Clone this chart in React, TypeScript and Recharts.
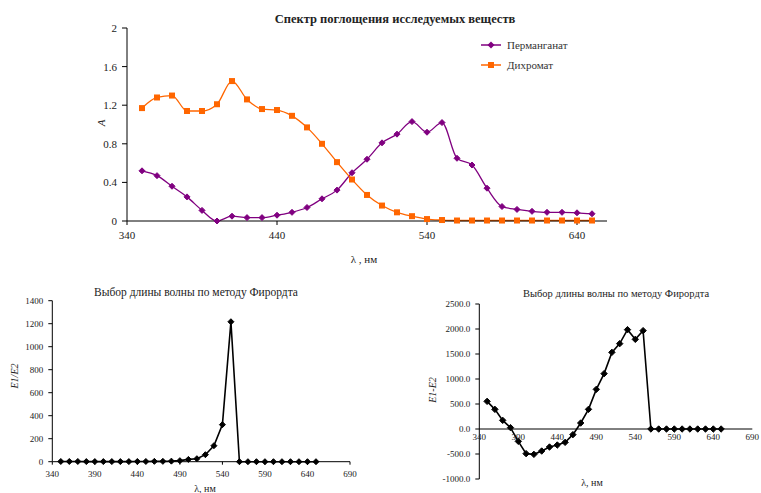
import { LineChart, Line, XAxis, YAxis, ReferenceLine, ReferenceDot } from "recharts";

const FONT = '"Liberation Serif", "DejaVu Serif", serif';

const wavelengths = [350, 360, 370, 380, 390, 400, 410, 420, 430, 440, 450, 460, 470, 480, 490, 500, 510, 520, 530, 540, 550, 560, 570, 580, 590, 600, 610, 620, 630, 640, 650];
const permanganate = [0.52, 0.47, 0.36, 0.25, 0.11, 0.0, 0.05, 0.035, 0.035, 0.06, 0.09, 0.14, 0.23, 0.32, 0.5, 0.64, 0.81, 0.9, 1.03, 0.92, 1.02, 0.65, 0.58, 0.34, 0.15, 0.12, 0.1, 0.09, 0.09, 0.085, 0.075];
const dichromate = [1.17, 1.28, 1.3, 1.14, 1.14, 1.21, 1.45, 1.26, 1.16, 1.15, 1.09, 0.97, 0.8, 0.61, 0.43, 0.27, 0.16, 0.09, 0.05, 0.02, 0.01, 0.005, 0.005, 0.005, 0.005, 0.005, 0.005, 0.005, 0.005, 0.005, 0.005];
const ratioE = [2, 2, 2, 1, 1, 1, 1, 1, 1, 2, 2, 3, 3, 5, 9, 20, 26, 61, 139, 322, 1217, 0, 0, 0, 0, 0, 0, 0, 0, 0, 0];
const diffE = [553, 393, 173, 27, -247, -493, -507, -440, -360, -320, -267, -113, 120, 393, 793, 1107, 1533, 1707, 1987, 1793, 1967, 0, 0, 0, 0, 0, 0, 0, 0, 0, 0];

const spectrumXTicks = [340, 440, 540, 640];
const spectrumYTicks = [0, 0.4, 0.8, 1.2, 1.6, 2];
const smallXTicks = [340, 390, 440, 490, 540, 590, 640, 690];
const ratioYTicks = [0, 200, 400, 600, 800, 1000, 1200, 1400];
const diffYTicks = [-1000, -500, 0, 500, 1000, 1500, 2000, 2500];

const PURPLE = "#800080";
const ORANGE = "#FF6600";

const rows = wavelengths.map((wl, i) => ({
  wl,
  perm: permanganate[i],
  dichr: dichromate[i],
  ratio: ratioE[i],
  diff: diffE[i],
}));

function diamond(color: string, r: number) {
  // eslint-disable-next-line @typescript-eslint/no-explicit-any
  return (p: any) => (
    <path
      key={p.index}
      d={`M${p.cx},${p.cy - r}L${p.cx + r},${p.cy}L${p.cx},${p.cy + r}L${p.cx - r},${p.cy}Z`}
      fill={color}
      stroke={color}
    />
  );
}

function square(color: string, r: number) {
  // eslint-disable-next-line @typescript-eslint/no-explicit-any
  return (p: any) => (
    <rect key={p.index} x={p.cx - r} y={p.cy - r} width={r * 2} height={r * 2} fill={color} />
  );
}

function Txt({ x, y, children, size = 11, bold = false, italic = false, rotate = 0 }: {
  x: number; y: number; children: React.ReactNode; size?: number; bold?: boolean; italic?: boolean; rotate?: number;
}) {
  return (
    <div
      style={{
        position: "absolute",
        left: x,
        top: y,
        transform: `translate(-50%, -50%) rotate(${rotate}deg)`,
        whiteSpace: "nowrap",
        fontFamily: FONT,
        fontSize: size,
        fontWeight: bold ? 700 : 400,
        fontStyle: italic ? "italic" : "normal",
        color: "#222",
        lineHeight: 1,
      }}
    >
      {children}
    </div>
  );
}

const legendItems = [
  { name: "Перманганат", color: PURPLE, kind: "diamond" },
  { name: "Дихромат", color: ORANGE, kind: "square" },
];

function SpectrumLegend() {
  return (
    <div style={{ position: "absolute", left: 481, top: 35, fontFamily: FONT, fontSize: 11, color: "#333" }}>
      {legendItems.map((it) => (
        <div key={it.name} style={{ display: "flex", alignItems: "center", height: 20 }}>
          <svg width={20} height={10}>
            <line x1={0} y1={5} x2={20} y2={5} stroke={it.color} strokeWidth={1.5} />
            {it.kind === "diamond" ? (
              <path d="M10,1.5L13.5,5L10,8.5L6.5,5Z" fill={it.color} />
            ) : (
              <rect x={7} y={2} width={6} height={6} fill={it.color} />
            )}
          </svg>
          <span style={{ marginLeft: 6 }}>{it.name}</span>
        </div>
      ))}
    </div>
  );
}

const tickMain = { fontSize: 11, fill: "#222", fontFamily: FONT };
const tickSmall = { fontSize: 9, fill: "#222", fontFamily: FONT };

export default function App() {
  return (
    <div style={{ position: "absolute", left: 0, top: 0, width: 761, height: 493, background: "#fff", overflow: "hidden" }}>
      <div style={{ position: "absolute", left: 0, top: 0 }}>
        <LineChart width={761} height={270} data={rows} margin={{ top: 28, right: 154, bottom: 19, left: 87 }}>
          <XAxis
            dataKey="wl"
            type="number"
            domain={[340, 660]}
            ticks={spectrumXTicks}
            allowDataOverflow
            stroke="#000"
            tick={tickMain}
            tickSize={4}
            tickMargin={6}
            height={30}
          />
          <YAxis
            type="number"
            domain={[0, 2]}
            ticks={spectrumYTicks}
            stroke="#000"
            tick={tickMain}
            tickSize={5}
            tickMargin={5}
            width={40}
          />
          <Line
            type="monotone"
            dataKey="perm"
            name="Перманганат"
            stroke={PURPLE}
            strokeWidth={1.3}
            dot={diamond(PURPLE, 3)}
            isAnimationActive={false}
          />
          <Line
            type="monotone"
            dataKey="dichr"
            name="Дихромат"
            stroke={ORANGE}
            strokeWidth={1.3}
            dot={square(ORANGE, 3)}
            isAnimationActive={false}
          />
        </LineChart>
      </div>
      <SpectrumLegend />
      <Txt x={395} y={19} bold size={12.5}>Спектр поглощения исследуемых веществ</Txt>
      <Txt x={101} y={123} italic rotate={-90}>A</Txt>
      <Txt x={364} y={259}>λ , нм</Txt>

      {/* E1/E2 */}
      <div style={{ position: "absolute", left: 0, top: 280 }}>
        <LineChart width={380} height={213} data={rows} margin={{ top: 20.7, right: 30, bottom: 11.3, left: 12.3 }}>
          <XAxis
            dataKey="wl"
            type="number"
            domain={[340, 690]}
            ticks={smallXTicks}
            stroke="#000"
            tick={tickSmall}
            tickSize={3}
            tickMargin={6}
            height={20}
          />
          <YAxis
            type="number"
            domain={[0, 1400]}
            ticks={ratioYTicks}
            stroke="#000"
            tick={tickSmall}
            tickSize={4}
            tickMargin={5}
            width={40}
          />
          <Line
            type="linear"
            dataKey="ratio"
            stroke="#000"
            strokeWidth={1.6}
            dot={diamond("#000", 3)}
            isAnimationActive={false}
          />
        </LineChart>
      </div>
      <Txt x={196} y={293} size={11.5}>Выбор длины волны по методу Фирордта</Txt>
      <Txt x={15} y={376} size={10} italic rotate={-90}>E1/E2</Txt>
      <Txt x={205} y={489} size={10}>λ, нм</Txt>

      {/* E1-E2 */}
      <div style={{ position: "absolute", left: 390, top: 280 }}>
        <LineChart width={371} height={213} data={rows} margin={{ top: 24, right: 8.7, bottom: 14, left: 39.3 }}>
          <XAxis dataKey="wl" type="number" domain={[340, 690]} hide height={0} />
          <YAxis
            type="number"
            domain={[-1000, 2500]}
            ticks={diffYTicks}
            tickFormatter={(v: number) => v.toFixed(1)}
            stroke="#000"
            tick={tickSmall}
            tickSize={4}
            tickMargin={5}
            width={50}
          />
          <ReferenceLine y={0} stroke="#000" strokeWidth={1} />
          {smallXTicks.map((t) => (
            <ReferenceDot
              key={t}
              x={t}
              y={0}
              r={0}
              fill="none"
              stroke="none"
              label={{ value: t, position: "bottom", offset: 5, fontSize: 9, fill: "#222", fontFamily: FONT }}
            />
          ))}
          <Line
            type="linear"
            dataKey="diff"
            stroke="#000"
            strokeWidth={1.6}
            dot={diamond("#000", 3.2)}
            isAnimationActive={false}
          />
        </LineChart>
      </div>
      <Txt x={616} y={294} size={10.5}>Выбор длины волны по методу Фирордта</Txt>
      <Txt x={433} y={390} size={10} italic rotate={-90}>E1-E2</Txt>
      <Txt x={592} y={483} size={10}>λ, нм</Txt>
    </div>
  );
}
